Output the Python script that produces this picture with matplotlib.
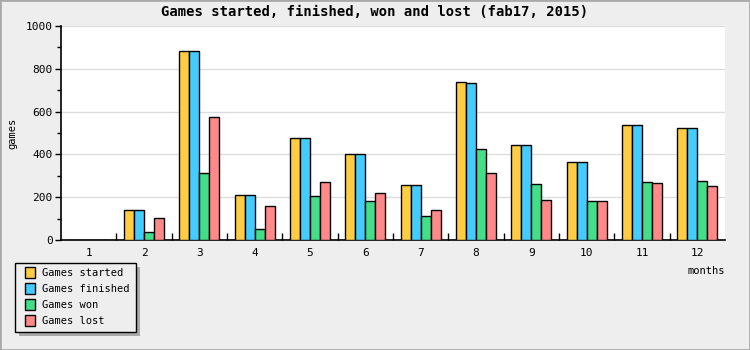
import matplotlib

matplotlib.use('Agg')
import matplotlib.pyplot as plt
import numpy as np
from matplotlib.patches import Rectangle
from matplotlib.ticker import MultipleLocator

MONTHS = [1, 2, 3, 4, 5, 6, 7, 8, 9, 10, 11, 12]
STARTED = [0, 139, 885, 209, 475, 400, 256, 737, 444, 363, 536, 522]
FINISHED = [0, 139, 885, 209, 475, 400, 256, 732, 444, 363, 536, 522]
WON = [0, 36, 311, 50, 204, 181, 111, 424, 260, 181, 270, 274]
LOST = [0, 101, 573, 157, 270, 218, 139, 312, 185, 181, 266, 251]

SERIES = [
    ('Games started', STARTED, '#ffcc44'),
    ('Games finished', FINISHED, '#44ccff'),
    ('Games won', WON, '#44dd88'),
    ('Games lost', LOST, '#ff8888'),
]

MONO = 'DejaVu Sans Mono'
BG = '#eeeeee'

fig = plt.figure(figsize=(7.5, 3.5), dpi=100, facecolor=BG)
ax = fig.add_axes((61 / 750, 1 - 240 / 350, 664 / 750, 214 / 350))
ax.set_facecolor('white')

x = np.array(MONTHS)
bar_w = 0.18
for i, (name, values, color) in enumerate(SERIES):
    ax.bar(x + (i - 1.5) * bar_w, values, bar_w, color=color,
           edgecolor='black', linewidth=1, label=name, zorder=3)

ax.set_xlim(0.5, 12.5)
ax.set_ylim(0, 1000)
ax.yaxis.set_major_locator(MultipleLocator(200))
ax.yaxis.set_minor_locator(MultipleLocator(100))
ax.grid(axis='y', which='major', color='#dddddd', linewidth=1, zorder=0)

# x: labels at centers, ticks at group boundaries
ax.set_xticks(MONTHS)
ax.set_xticklabels([str(m) for m in MONTHS], fontfamily=MONO, fontsize=8)
ax.tick_params(axis='x', which='major', length=0, pad=6)
ax.set_xticks(np.arange(1.5, 12.5, 1), minor=True)
ax.tick_params(axis='x', which='minor', direction='in', length=5, width=1)

ax.tick_params(axis='y', which='major', direction='out', length=4, width=1, labelsize=8, pad=2)
ax.tick_params(axis='y', which='minor', direction='out', length=3, width=1)
for lbl in ax.get_yticklabels():
    lbl.set_fontfamily(MONO)

for side in ('top', 'right'):
    ax.spines[side].set_visible(False)
for side in ('left', 'bottom'):
    ax.spines[side].set_linewidth(1.2)

fig.text(0.5, 1 - 12 / 350, 'Games started, finished, won and lost (fab17, 2015)',
         ha='center', va='center', fontfamily=MONO, fontweight='bold', fontsize=10)
fig.text(12 / 750, 1 - 133 / 350, 'games', rotation=90, ha='center', va='center',
         fontfamily=MONO, fontsize=7.5)
fig.text(725 / 750, 1 - 271 / 350, 'months', ha='right', va='center',
         fontfamily=MONO, fontsize=7.5)

# legend box with shadow
fig.patches.append(Rectangle((19 / 750, 1 - 336 / 350), 121 / 750, 69 / 350,
                             transform=fig.transFigure, facecolor='#aaaaaa',
                             edgecolor='none', zorder=1))
fig.patches.append(Rectangle((15 / 750, 1 - 332 / 350), 121 / 750, 69 / 350,
                             transform=fig.transFigure, facecolor=BG,
                             edgecolor='black', linewidth=1, zorder=2))
for i, (name, values, color) in enumerate(SERIES):
    yc = 273 + i * 16
    fig.patches.append(Rectangle((25 / 750, 1 - (yc + 5) / 350), 10 / 750, 11 / 350,
                                 transform=fig.transFigure, facecolor=color,
                                 edgecolor='black', linewidth=1, zorder=3))
    fig.text(42 / 750, 1 - yc / 350, name, ha='left', va='center',
             fontfamily=MONO, fontsize=7.5, zorder=4)

# outer border
fig.patches.append(Rectangle((0, 0), 1, 1, transform=fig.transFigure,
                             facecolor='none', edgecolor='#aaaaaa', linewidth=2))

fig.savefig('out.png', dpi=100, facecolor=BG)
